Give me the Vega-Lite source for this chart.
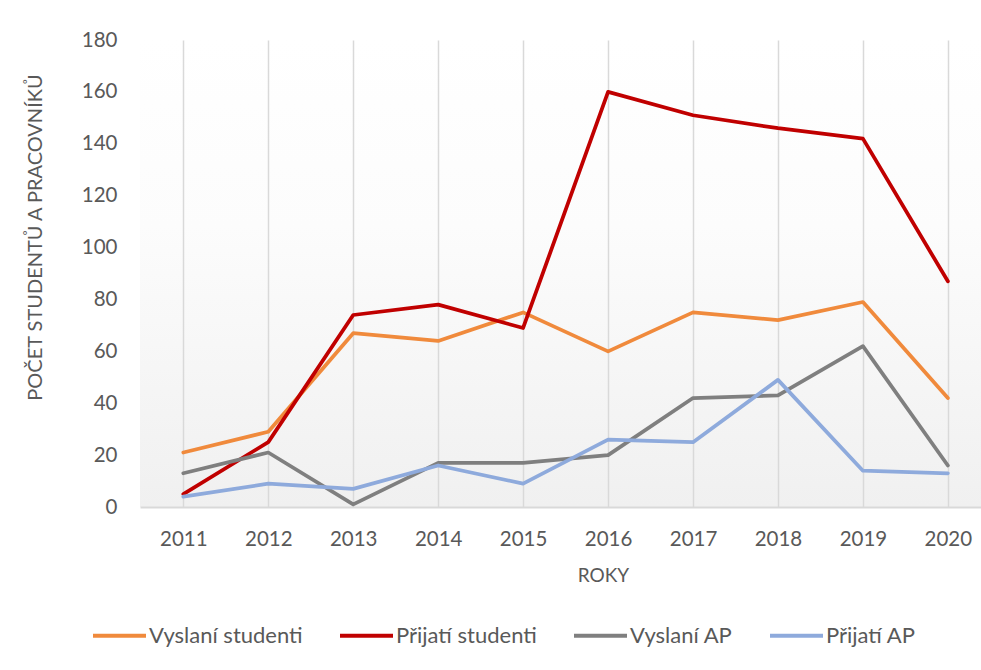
{
  "$schema": "https://vega.github.io/schema/vega-lite/v6.json",
  "autosize": "none",
  "width": 841,
  "height": 467,
  "padding": {"left": 140, "top": 40, "right": 0, "bottom": 163},
  "background": "#ffffff",
  "config": {
    "font": "Lato",
    "view": {
      "stroke": null,
      "fill": {"gradient": "linear", "x1": 0, "y1": 0, "x2": 0, "y2": 1,
        "stops": [{"offset": 0, "color": "#ffffff"}, {"offset": 0.4, "color": "#fcfcfc"}, {"offset": 1, "color": "#f0f0f0"}]}
    }
  },
  "data": {"values": [
    {"rok": 2011, "serie": "Vyslaní studenti", "pocet": 21},
    {"rok": 2012, "serie": "Vyslaní studenti", "pocet": 29},
    {"rok": 2013, "serie": "Vyslaní studenti", "pocet": 67},
    {"rok": 2014, "serie": "Vyslaní studenti", "pocet": 64},
    {"rok": 2015, "serie": "Vyslaní studenti", "pocet": 75},
    {"rok": 2016, "serie": "Vyslaní studenti", "pocet": 60},
    {"rok": 2017, "serie": "Vyslaní studenti", "pocet": 75},
    {"rok": 2018, "serie": "Vyslaní studenti", "pocet": 72},
    {"rok": 2019, "serie": "Vyslaní studenti", "pocet": 79},
    {"rok": 2020, "serie": "Vyslaní studenti", "pocet": 42},
    {"rok": 2011, "serie": "Přijatí studenti", "pocet": 5},
    {"rok": 2012, "serie": "Přijatí studenti", "pocet": 25},
    {"rok": 2013, "serie": "Přijatí studenti", "pocet": 74},
    {"rok": 2014, "serie": "Přijatí studenti", "pocet": 78},
    {"rok": 2015, "serie": "Přijatí studenti", "pocet": 69},
    {"rok": 2016, "serie": "Přijatí studenti", "pocet": 160},
    {"rok": 2017, "serie": "Přijatí studenti", "pocet": 151},
    {"rok": 2018, "serie": "Přijatí studenti", "pocet": 146},
    {"rok": 2019, "serie": "Přijatí studenti", "pocet": 142},
    {"rok": 2020, "serie": "Přijatí studenti", "pocet": 87},
    {"rok": 2011, "serie": "Vyslaní AP", "pocet": 13},
    {"rok": 2012, "serie": "Vyslaní AP", "pocet": 21},
    {"rok": 2013, "serie": "Vyslaní AP", "pocet": 1},
    {"rok": 2014, "serie": "Vyslaní AP", "pocet": 17},
    {"rok": 2015, "serie": "Vyslaní AP", "pocet": 17},
    {"rok": 2016, "serie": "Vyslaní AP", "pocet": 20},
    {"rok": 2017, "serie": "Vyslaní AP", "pocet": 42},
    {"rok": 2018, "serie": "Vyslaní AP", "pocet": 43},
    {"rok": 2019, "serie": "Vyslaní AP", "pocet": 62},
    {"rok": 2020, "serie": "Vyslaní AP", "pocet": 16},
    {"rok": 2011, "serie": "Přijatí AP", "pocet": 4},
    {"rok": 2012, "serie": "Přijatí AP", "pocet": 9},
    {"rok": 2013, "serie": "Přijatí AP", "pocet": 7},
    {"rok": 2014, "serie": "Přijatí AP", "pocet": 16},
    {"rok": 2015, "serie": "Přijatí AP", "pocet": 9},
    {"rok": 2016, "serie": "Přijatí AP", "pocet": 26},
    {"rok": 2017, "serie": "Přijatí AP", "pocet": 25},
    {"rok": 2018, "serie": "Přijatí AP", "pocet": 49},
    {"rok": 2019, "serie": "Přijatí AP", "pocet": 14},
    {"rok": 2020, "serie": "Přijatí AP", "pocet": 13}
  ]},
  "mark": {"type": "line", "strokeWidth": 3.75, "strokeJoin": "round", "strokeCap": "round"},
  "encoding": {
    "x": {
      "field": "rok", "type": "quantitative",
      "scale": {"domain": [2010.49, 2020.39], "nice": false, "zero": false},
      "axis": {
        "values": [2011, 2012, 2013, 2014, 2015, 2016, 2017, 2018, 2019, 2020],
        "format": "d",
        "title": "ROKY",
        "grid": true, "gridColor": "#d9d9d9", "gridWidth": 1.5,
        "domain": true, "domainColor": "#d9d9d9", "domainWidth": 2,
        "ticks": false,
        "labelFontSize": 20.5, "labelColor": "#595959", "labelPadding": 22, "labelFlush": false,
        "titleFontSize": 19, "titleColor": "#595959", "titleFontWeight": "normal",
        "titleX": 463, "titleY": 68, "titleBaseline": "middle"
      }
    },
    "y": {
      "field": "pocet", "type": "quantitative",
      "scale": {"domain": [0, 180], "nice": false},
      "axis": {
        "values": [0, 20, 40, 60, 80, 100, 120, 140, 160, 180],
        "title": "POČET STUDENTŮ A PRACOVNÍKŮ",
        "grid": false, "domain": false, "ticks": false,
        "labelFontSize": 20.5, "labelColor": "#595959", "labelPadding": 23,
        "titleFontSize": 20, "titleColor": "#595959", "titleFontWeight": "normal",
        "titleX": -105, "titleY": 197, "titleAngle": -90, "titleBaseline": "middle", "titleAlign": "center"
      }
    },
    "color": {
      "field": "serie", "type": "nominal",
      "scale": {
        "domain": ["Vyslaní studenti", "Přijatí studenti", "Vyslaní AP", "Přijatí AP"],
        "range": ["#f08a3c", "#c00000", "#7f7f7f", "#8eaadc"]
      },
      "legend": {
        "title": null, "orient": "none", "direction": "horizontal",
        "legendX": -49, "legendY": 567,
        "symbolType": "stroke", "symbolStrokeWidth": 4, "symbolSize": 2809,
        "labelFontSize": 22, "labelColor": "#595959", "labelOffset": 1,
        "columnPadding": 29
      }
    },
    "order": {"field": "rok"}
  }
}
